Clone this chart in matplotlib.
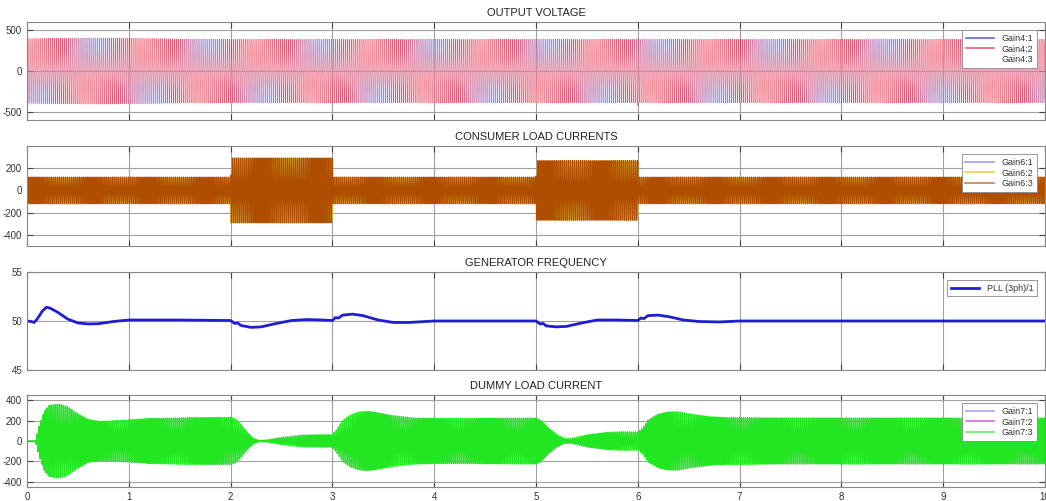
import numpy as np
import matplotlib.pyplot as plt

plt.rcParams['font.family'] = ['Liberation Sans', 'DejaVu Sans']
plt.rcParams['axes.unicode_minus'] = False

# grid frequency of the scope signals (Hz)
f_line = 50.0
t_end = 10.0

# output voltage envelope (V peak)
vout_t = [0.0, 0.4, 0.8, 1.5, 2.0, 5.99, 6.0, 6.01, 10.0]
vout_amp = [395, 402, 405, 392, 388, 388, 430, 388, 388]

# consumer load current envelope (A peak)
load_t = [0.0, 2.0, 2.002, 3.0, 3.002, 5.0, 5.002, 6.0, 6.002, 10.0]
load_amp = [120, 120, 292, 292, 120, 120, 268, 268, 120, 120]

# generator frequency from the PLL (Hz)
freq_t = [0.0, 0.04, 0.07, 0.1, 0.15, 0.19, 0.23, 0.3, 0.4, 0.5, 0.6, 0.7, 0.85, 1.0,
          1.5, 2.0, 2.04, 2.07, 2.1, 2.2, 2.3, 2.45, 2.6, 2.75, 2.9, 3.0, 3.03, 3.06,
          3.1, 3.2, 3.3, 3.45, 3.6, 3.75, 4.0, 5.0, 5.04, 5.07, 5.1, 5.2, 5.3, 5.45,
          5.6, 5.8, 6.0, 6.03, 6.06, 6.1, 6.2, 6.3, 6.45, 6.6, 6.8, 7.0, 10.0]
freq_val = [50.0, 49.95, 49.85, 50.2, 51.0, 51.4, 51.3, 50.9, 50.2, 49.8, 49.7, 49.72, 49.95, 50.1,
            50.1, 50.05, 49.75, 49.8, 49.55, 49.35, 49.4, 49.75, 50.05, 50.15, 50.1, 50.05, 50.35, 50.3,
            50.6, 50.7, 50.55, 50.1, 49.85, 49.85, 50.0, 50.0, 49.7, 49.75, 49.5, 49.4, 49.45, 49.8,
            50.1, 50.1, 50.05, 50.3, 50.25, 50.55, 50.6, 50.45, 50.1, 49.95, 49.9, 50.0, 50.0]

# dummy load current envelope (A peak)
dummy_t = [0.0, 0.08, 0.12, 0.17, 0.22, 0.32, 0.4, 0.5, 0.6, 0.72, 0.9, 1.2, 1.6, 2.0,
           2.05, 2.1, 2.16, 2.22, 2.28, 2.35, 2.5, 2.7, 2.9, 3.0, 3.04, 3.1, 3.17, 3.25,
           3.35, 3.45, 3.6, 3.8, 4.0, 4.5, 5.0, 5.05, 5.12, 5.2, 5.28, 5.35, 5.5, 5.7,
           5.85, 6.0, 6.05, 6.1, 6.2, 6.3, 6.4, 6.5, 6.7, 6.9, 7.5, 10.0]
dummy_amp = [0, 0, 150, 290, 350, 360, 335, 265, 210, 190, 200, 220, 228, 230,
             215, 165, 90, 30, 5, 10, 35, 58, 62, 62, 110, 200, 250, 282,
             290, 275, 248, 225, 220, 222, 225, 200, 130, 66, 25, 25, 60, 85,
             90, 88, 130, 205, 262, 285, 285, 265, 238, 228, 225, 225]

t = np.linspace(0, t_end, 50001)
phase_shift = np.deg2rad([0, -120, 120])


def three_phase(env_t, env_amp):
    env = np.interp(t, env_t, env_amp)
    return [env * np.sin(2 * np.pi * f_line * t + ph) for ph in phase_shift]


fig = plt.figure(figsize=(10.46, 5.01), dpi=100)
left = 27 / 1046
width = (1045 - 27) / 1046
H = 501
boxes = [(22, 120), (146, 246), (272, 370), (395, 487)]
axes = [fig.add_axes([left, 1 - b / H, width, (b - tp) / H]) for tp, b in boxes]

# (title, waves, labels, colours, widths, alphas, ylim, yticks)
panels = [
    ('OUTPUT VOLTAGE', three_phase(vout_t, vout_amp),
     ['Gain4:1', 'Gain4:2', 'Gain4:3'], ['#2020e0', '#e8203a', '#ffffff'],
     [0.4, 0.5, 0.35], [0.25, 0.7, 0.6], (-600, 600), [-500, 0, 500]),
    ('CONSUMER LOAD CURRENTS', three_phase(load_t, load_amp),
     ['Gain6:1', 'Gain6:2', 'Gain6:3'], ['#7070f0', '#f0b800', '#b04e00'],
     [0.3, 0.5, 0.9], [0.1, 0.8, 1.0], (-500, 400), [-400, -200, 0, 200]),
    ('DUMMY LOAD CURRENT', three_phase(dummy_t, dummy_amp),
     ['Gain7:1', 'Gain7:2', 'Gain7:3'], ['#8080f0', '#d020d0', '#22e622'],
     [0.3, 0.3, 1.0], [0.1, 0.1, 1.0], (-450, 450), [-400, -200, 0, 200, 400]),
]

for ax in axes:
    ax.set_xlim(0, t_end)
    ax.set_xticks(np.arange(0, 11, 1))
    ax.grid(True, color='#a0a0a0', linewidth=0.8)
    ax.tick_params(direction='in', length=4, labelsize=7, colors='#444444',
                   top=True, right=True, labelcolor='#333333')
    for sp in ax.spines.values():
        sp.set_color('#888888')
        sp.set_linewidth(0.8)


def style_legend(leg):
    leg.get_frame().set_edgecolor('#888888')
    leg.get_frame().set_linewidth(0.6)
    for txt in leg.get_texts():
        txt.set_color('#333333')


for ax, (title, waves, names, colors, widths, alphas, ylim, yt) in zip([axes[0], axes[1], axes[3]], panels):
    for w, n, c, lw, a in zip(waves, names, colors, widths, alphas):
        ax.plot(t, w, color=c, linewidth=lw, alpha=a, label=n)
    ax.set_ylim(*ylim)
    ax.set_yticks(yt)
    ax.set_title(title, fontsize=8, pad=4, color='#222222')
    leg = ax.legend(loc='upper right', fontsize=6.5, fancybox=False, framealpha=1,
                    handlelength=3.2, borderaxespad=0.9, labelspacing=0.2)
    style_legend(leg)
    for line in leg.get_lines():
        line.set_linewidth(1.2)
        line.set_alpha(0.7)

ax = axes[2]
ax.plot(freq_t, freq_val, color='#1e1ed0', linewidth=2, label='PLL (3ph)/1')
ax.set_ylim(45, 55)
ax.set_yticks([45, 50, 55])
ax.set_title('GENERATOR FREQUENCY', fontsize=8, pad=4, color='#222222')
leg = ax.legend(loc='upper right', fontsize=6.5, fancybox=False, framealpha=1,
                handlelength=3.2, borderaxespad=0.9)
style_legend(leg)

for a in axes[:3]:
    a.tick_params(labelbottom=False)

fig.savefig('out.png', dpi=100)
